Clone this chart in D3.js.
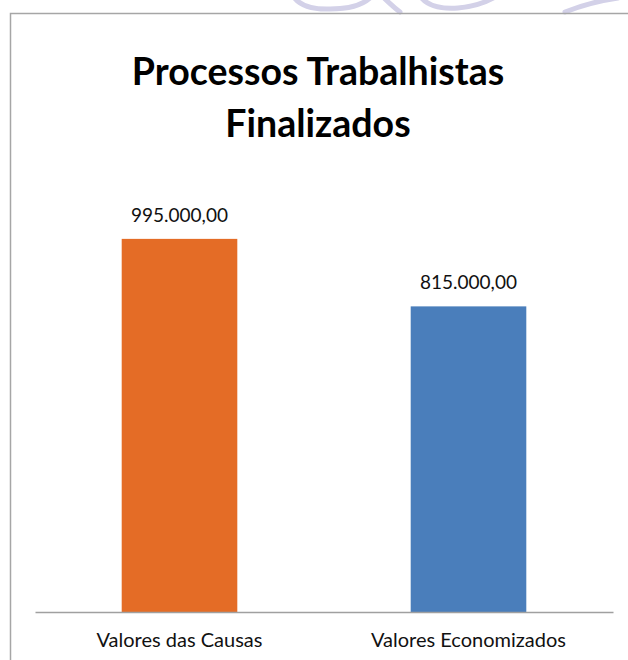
<!DOCTYPE html>
<html>
<head>
<meta charset="utf-8">
<script src="https://cdn.jsdelivr.net/npm/d3@7"></script>
<style>
    body { margin: 0; background: #fff; }
    text { font-family: Lato, "Open Sans", sans-serif; }
</style>
</head>
<body>
<script>
// Data
var categories = ["Valores das Causas", "Valores Economizados"];
var values = [995000, 815000];
var barColors = ["#e46c26", "#4a7ebb"];
var titleLines = ["Processos Trabalhistas", "Finalizados"];

function init()
{
    var w = 628;
    var h = 660;

    var svg = d3.select("body")
                .append("svg")
                .attr("width", w)
                .attr("height", h);

    svg.append("rect")
       .attr("width", w)
       .attr("height", h)
       .attr("fill", "#fff");

    // faint watermark peeking above the chart frame
    var mark = svg.append("g")
                  .attr("fill", "none")
                  .attr("stroke", "#d3d1e8")
                  .attr("stroke-width", 5)
                  .attr("stroke-linecap", "round");
    mark.append("path").attr("d", "M292,-6 Q300,10 330,9 Q360,9 372,-4");
    mark.append("path").attr("d", "M380,-6 Q392,6 400,12");
    mark.append("path").attr("d", "M420,-4 Q430,10 458,8 Q482,6 500,-6");
    mark.append("path").attr("d", "M565,12 Q590,2 618,-2");

    // chart frame
    svg.append("rect")
       .attr("x", 10.5)
       .attr("y", 13.5)
       .attr("width", 640)
       .attr("height", 680)
       .attr("fill", "none")
       .attr("stroke", "#a6a6a6")
       .attr("stroke-width", 1.5);

    // title
    svg.append("text")
       .attr("x", 318)
       .attr("y", 85)
       .attr("text-anchor", "middle")
       .style("font-size", "37.5px")
       .style("font-weight", "bold")
       .selectAll("tspan")
       .data(titleLines)
       .enter()
       .append("tspan")
       .attr("x", 318)
       .attr("dy", function(d, i) { return i == 0 ? 0 : 52; })
       .text(function(d) { return d; });

    var xScale = d3.scaleBand()
                   .domain(categories)
                   .range([35, 613])
                   .paddingInner(0.6)
                   .paddingOuter(0.3);

    var yScale = d3.scaleLinear()
                   .domain([0, 1200000])
                   .range([612, 162]);

    var ptBR = d3.formatLocale({decimal: ",", thousands: ".", grouping: [3], currency: ["R$ ", ""]});
    var fmt = ptBR.format(",.2f");

    var rows = categories.map(function(c, i) {
        return {name: c, value: values[i], color: barColors[i]};
    });

    svg.selectAll("rect.bar")
       .data(rows)
       .enter()
       .append("rect")
       .attr("class", "bar")
       .attr("x", function(d) { return xScale(d.name); })
       .attr("y", function(d) { return yScale(d.value); })
       .attr("width", xScale.bandwidth())
       .attr("height", function(d) { return yScale(0) - yScale(d.value); })
       .attr("fill", function(d) { return d.color; });

    svg.selectAll("text.val")
       .data(rows)
       .enter()
       .append("text")
       .attr("class", "val")
       .attr("x", function(d) { return xScale(d.name) + xScale.bandwidth() / 2; })
       .attr("y", function(d) { return yScale(d.value) - 17; })
       .attr("text-anchor", "middle")
       .style("font-size", "19px")
       .style("fill", "#111")
       .text(function(d) { return fmt(d.value); });

    var xAxis = d3.axisBottom(xScale)
                  .tickSize(0)
                  .tickPadding(21);

    var gx = svg.append("g")
                .attr("transform", "translate(0," + yScale(0) + ")")
                .call(xAxis);

    gx.select(".domain")
      .attr("stroke", "#a0a0a0")
      .attr("stroke-width", 1.5);

    gx.selectAll("text")
      .style("font-family", "Lato, 'Open Sans', sans-serif")
      .style("font-size", "20px")
      .style("fill", "#111");
}
window.onload = init;
</script>
</body>
</html>
